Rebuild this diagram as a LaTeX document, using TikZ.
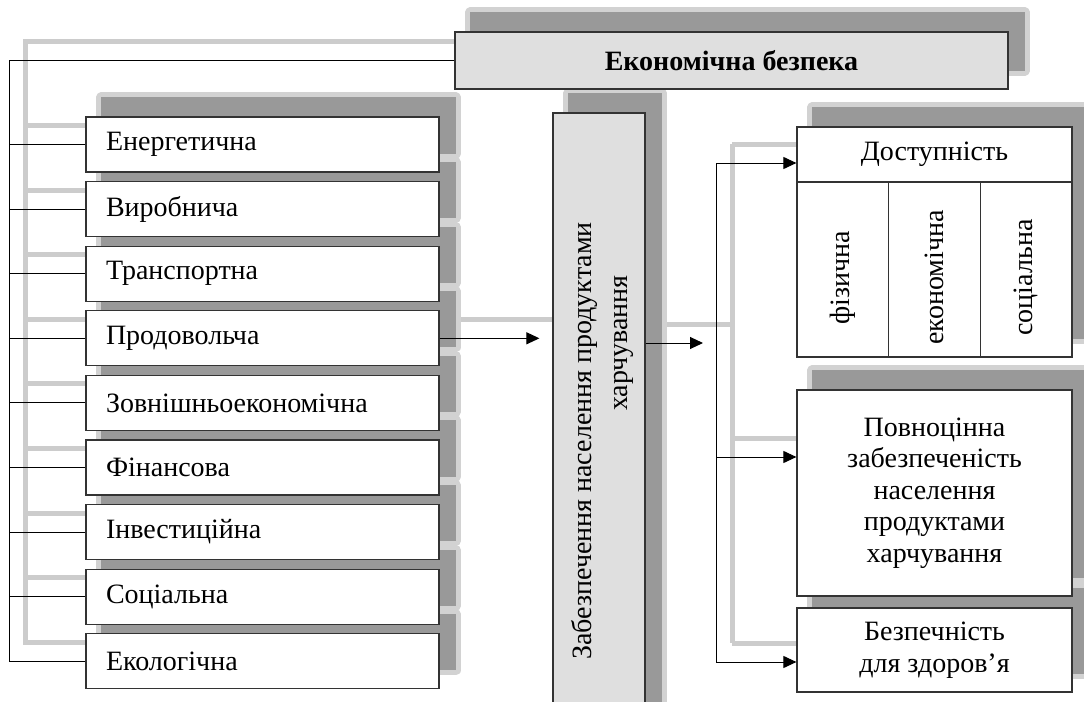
\documentclass[tikz,border=0pt]{standalone}
\usepackage{fontspec}
\setmainfont{Liberation Serif}
\usetikzlibrary{positioning,arrows.meta}
\pgfdeclarelayer{bg}
\pgfsetlayers{bg,main}

\tikzset{
  txt/.style={font=\fontsize{14}{15.75}\selectfont},
  box/.style={draw=black!80,line width=0.6pt,fill=white,inner sep=0pt,txt},
  kind/.style={box,minimum width=176.5pt,minimum height=27.5pt,text width=156.5pt,inner xsep=10pt,align=left},
  link/.style={line width=0.5pt},
  arr/.style={line width=0.5pt,-{Triangle[length=6.5pt,width=6pt]}},
  ghost/.style={draw=gray!40,line width=2.5pt},
  fringe/.style={draw=gray!35,fill=gray!35,line width=5pt,line join=round},
  shade/.style={fill=gray!80}
}

\begin{document}
\begin{tikzpicture}[x=0.5pt,y=-0.5pt]
  \useasboundingbox (0,0) rectangle (1084,702);

  % top
  \node[box,fill=gray!25,minimum width=276.5pt,minimum height=28.5pt,font=\bfseries\fontsize{14}{15.75}\selectfont] (eco) at (731.5,60.5) {Економічна безпека};

  % left column
  \foreach \name/\txt [count=\i from 0] in {energ/Енергетична,vyrob/Виробнича,trans/Транспортна,prod/Продовольча,zovn/Зовнішньоекономічна,fin/Фінансова,inv/Інвестиційна,soc/Соціальна,ekol/Екологічна}
    \node[kind] (\name) at (262.5,{144.5+64.6*\i}) {\txt};

  % middle
  \node[box,fill=gray!25,minimum width=46pt,minimum height=313.5pt] (mid) at (599,426.5) {};
  \node[txt,rotate=90] (midA) at (584,441) {Забезпечення населення продуктами};
  \node[txt,rotate=90] (midB) at (624,343) {харчування};

  % right column
  \node[box,minimum width=137.5pt,minimum height=27.5pt] (dost) at (934.5,154.5) {Доступність};
  \foreach \name/\txt [count=\i from 0] in {fiz/фізична,ekon/економічна,socd/соціальна}{
    \node[box,minimum width=45.83pt,minimum height=87.5pt] (\name) at ({842.8+91.67*\i},269.5) {};
    \node[txt,rotate=90] at ([yshift=-4pt]\name.center) {\txt};
  }
  \node[box,minimum width=137.5pt,minimum height=103pt,align=center] (povn) at (934.5,493) {Повноцінна\\забезпеченість\\населення\\продуктами\\харчування};
  \node[box,minimum width=137.5pt,minimum height=42pt,align=center] (bezp) at (934.5,650) {Безпечність\\для здоров’я};

  % connectors
  \coordinate (lbus) at (9,0);
  \coordinate (r0) at (716,343);
  \coordinate (r1) at (716,163);
  \coordinate (r2) at (716,457);
  \coordinate (r3) at (716,662);

  \draw[link] (eco.west) -| (lbus |- ekol.west) -- (ekol.west);
  \foreach \name in {energ,vyrob,trans,prod,zovn,fin,inv,soc}
    \draw[link] (lbus |- \name.west) -- (\name.west);
  \draw[arr,shorten >=6.5pt] (prod.east) -- (prod.east -| mid.west);
  \draw[arr,shorten >=6.5pt] (r0 -| mid.east) -- (r0);
  \draw[link] (r1) -- (r3);
  \draw[arr] (r1) -- (r1 -| dost.west);
  \draw[arr] (r2) -- (r2 -| povn.west);
  \draw[arr] (r3) -- (r3 -| bezp.west);

  % shadows
  \begin{pgfonlayer}{bg}
  \begin{scope}[transform canvas={xshift=8pt,yshift=9.5pt}]
    \begin{scope}[ghost]
      \draw (eco.west) -| (lbus |- ekol.west) -- (ekol.west);
      \foreach \name in {energ,vyrob,trans,prod,zovn,fin,inv,soc}
        \draw (lbus |- \name.west) -- (\name.west);
      \draw[shorten >=6.5pt] (prod.east) -- (prod.east -| mid.west);
      \draw (r0 -| mid.east) -- (r0);
      \draw (r1) -- (r3);
      \draw (r1) -- (r1 -| dost.west);
      \draw (r2) -- (r2 -| povn.west);
      \draw (r3) -- (r3 -| bezp.west);
    \end{scope}
    \foreach \name in {eco,energ,vyrob,trans,prod,zovn,fin,inv,soc,ekol,mid,dost,fiz,ekon,socd,povn,bezp}
      \draw[fringe] (\name.south west) rectangle (\name.north east);
    \foreach \name in {eco,energ,vyrob,trans,prod,zovn,fin,inv,soc,ekol,mid,dost,fiz,ekon,socd,povn,bezp}
      \fill[shade] (\name.south west) rectangle (\name.north east);
  \end{scope}
  \end{pgfonlayer}
\end{tikzpicture}
\end{document}
